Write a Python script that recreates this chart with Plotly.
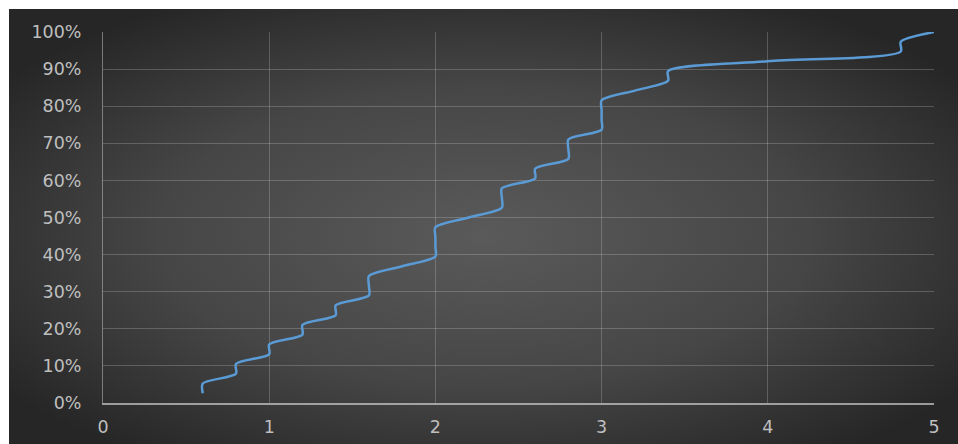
import base64
import plotly.graph_objects as go

# Sorted sample values (x) and their cumulative share (y, %)
x_values = [0.6, 0.6, 0.8, 0.8, 1.0, 1.0, 1.2, 1.2, 1.4, 1.4,
            1.6, 1.6, 1.6, 1.8, 2.0, 2.0, 2.0, 2.0, 2.2, 2.4,
            2.4, 2.4, 2.6, 2.6, 2.8, 2.8, 2.8, 3.0, 3.0, 3.0,
            3.0, 3.2, 3.4, 3.4, 4.0, 4.8, 4.8, 5.0]
cum_pct = [2.63, 5.26, 7.89, 10.53, 13.16, 15.79, 18.42, 21.05, 23.68, 26.32,
           28.95, 31.58, 34.21, 36.84, 39.47, 42.11, 44.74, 47.37, 50.00, 52.63,
           55.26, 57.89, 60.53, 63.16, 65.79, 68.42, 71.05, 73.68, 76.32, 78.95,
           81.58, 84.21, 86.84, 89.47, 92.11, 94.74, 97.37, 100.00]
x_ticks = [0, 1, 2, 3, 4, 5]
y_ticks = [0, 10, 20, 30, 40, 50, 60, 70, 80, 90, 100]
y_tick_labels = [f"{v}%" for v in y_ticks]

W, H = 958, 444
L, R, T, B = 103, 934, 32, 403

svg = f'''<svg xmlns="http://www.w3.org/2000/svg" width="949" height="435" viewBox="0 0 949 435" preserveAspectRatio="none">
<defs><radialGradient id="g" cx="0.5" cy="0.52" r="0.62">
<stop offset="0" stop-color="#5a5a5a"/>
<stop offset="0.55" stop-color="#464646"/>
<stop offset="1" stop-color="#262626"/>
</radialGradient></defs>
<rect x="0" y="0" width="949" height="435" fill="url(#g)"/>
</svg>'''
src = "data:image/svg+xml;base64," + base64.b64encode(svg.encode()).decode()

pw, ph = R - L, B - T
img_x0 = (9 - L) / pw
img_x1 = (W - L) / pw
img_y1 = 1 + (T - 9) / ph
img_y0 = -(H - B) / ph

fig = go.Figure()
fig.add_trace(go.Scatter(
    x=x_values, y=[v / 100 for v in cum_pct],
    mode="lines",
    line=dict(color="#5B9BD5", width=2.5, shape="spline", smoothing=0.75),
    showlegend=False, hoverinfo="skip"))

fig.add_layout_image(dict(
    source=src, xref="paper", yref="paper",
    x=img_x0, y=img_y1, sizex=img_x1 - img_x0, sizey=img_y1 - img_y0,
    xanchor="left", yanchor="top", sizing="stretch", layer="below"))

font = dict(family="DejaVu Sans", size=17.5, color="#BFBFBF")
fig.update_layout(
    width=W, height=H,
    margin=dict(l=L, r=W - R, t=T, b=H - B, pad=0, autoexpand=False),
    paper_bgcolor="white", plot_bgcolor="rgba(0,0,0,0)",
    font=font,
)
fig.update_xaxes(
    range=[0, 5], tickmode="array", tickvals=x_ticks, ticktext=[str(v) for v in x_ticks],
    showgrid=True, gridcolor="rgba(217,217,217,0.25)", gridwidth=1,
    zeroline=False, showline=True, linecolor="rgba(217,217,217,0.65)", linewidth=2,
    ticks="", ticklabelstandoff=7, tickfont=font, automargin=False)
fig.update_yaxes(
    range=[0, 1], tickmode="array", tickvals=[v / 100 for v in y_ticks], ticktext=y_tick_labels,
    showgrid=True, gridcolor="rgba(217,217,217,0.25)", gridwidth=1,
    zeroline=False, showline=True, linecolor="rgba(217,217,217,0.45)", linewidth=1,
    ticks="", ticklabelstandoff=17, tickfont=font, automargin=False)

fig.write_html("out.html")
